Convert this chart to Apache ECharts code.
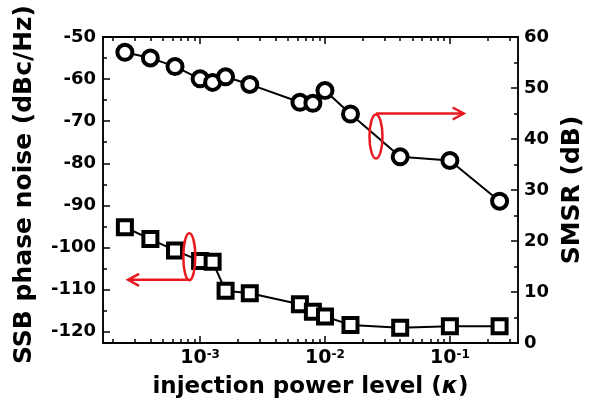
<!DOCTYPE html>
<html>
<head>
<meta charset="utf-8">
<script src="https://cdn.jsdelivr.net/npm/echarts@6/dist/echarts.min.js"></script>
<style>
html,body{margin:0;padding:0;background:#fff;}
#c{width:589px;height:411px;}
</style>
</head>
<body>
<div id="c"></div>
<script>
// ---- data ----
const kappa = [2.5e-4, 4e-4, 6.3e-4, 1e-3, 1.26e-3, 1.6e-3, 2.5e-3, 6.3e-3, 8e-3, 1e-2, 1.6e-2, 4e-2, 1e-1, 2.5e-1];
const phaseNoise = [-95.2, -98.0, -100.7, -103.2, -103.4, -110.3, -110.9, -113.5, -115.3, -116.4, -118.4, -119.1, -118.7, -118.7];
const smsr = [57.0, 55.9, 54.2, 51.8, 51.1, 52.2, 50.7, 47.2, 47.0, 49.5, 44.9, 36.5, 35.8, 27.8];

// ---- tick values ----
const xMajorTicks = [1e-3, 1e-2, 1e-1];
const xMinorTicks = [2e-4, 3e-4, 4e-4, 5e-4, 6e-4, 7e-4, 8e-4, 9e-4,
                     2e-3, 3e-3, 4e-3, 5e-3, 6e-3, 7e-3, 8e-3, 9e-3,
                     2e-2, 3e-2, 4e-2, 5e-2, 6e-2, 7e-2, 8e-2, 9e-2,
                     2e-1, 3e-1];
const yLeftTicks = [-120, -110, -100, -90, -80, -70, -60, -50];
const yLeftMinor = [-115, -105, -95, -85, -75, -65, -55];

// ---- annotation anchors (data coordinates) ----
const rightEllipse = [0.0256, 40.5];   // on SMSR axis
const rightArrow = [[0.0256, 45.0], [0.129, 45.0]];
const leftEllipse = [8.2e-4, -102.2];  // on phase-noise axis
const leftArrow = [[8.2e-4, -107.7], [2.65e-4, -107.7]];

const FONT = 'DejaVu Sans';
const BLACK = '#000';
const lineStyle = {color: BLACK, width: 1.5};

function xAxisBase(pos) {
  return {
    type: 'log', logBase: 10, min: 1.67e-4, max: 0.351, position: pos, gridIndex: 0,
    axisLine: {show: true, onZero: false, lineStyle: lineStyle},
    splitLine: {show: false}, minorSplitLine: {show: false},
    axisLabel: {show: false}
  };
}

const chart = echarts.init(document.getElementById('c'), null, {renderer: 'canvas'});

// invisible helper series so that every tick-only axis has an extent
function helper(xi, yi, vals) {
  return {
    type: 'line', xAxisIndex: xi, yAxisIndex: yi, silent: true,
    data: kappa.map(function (k, i) { return [k, vals[i]]; }),
    symbol: 'none', lineStyle: {opacity: 0}, itemStyle: {opacity: 0}, tooltip: {show: false}, z: 0
  };
}

const option = {
  backgroundColor: '#fff',
  animation: false,
  grid: {left: 103, right: 71, top: 37, bottom: 68, containLabel: false, outerBoundsMode: 'none',
         show: true, borderColor: BLACK, borderWidth: 1.5, backgroundColor: 'transparent'},
  xAxis: [
    Object.assign(xAxisBase('bottom'), {
      axisTick: {show: true, inside: true, length: 7, customValues: xMajorTicks, lineStyle: lineStyle},
      axisLabel: {
        show: true, customValues: xMajorTicks, margin: 6,
        formatter: function (v) { return '{b|10}{s|' + Math.round(Math.log10(v)) + '}'; },
        rich: {
          b: {fontFamily: FONT, fontWeight: 'bold', fontSize: 19, color: BLACK},
          s: {fontFamily: FONT, fontWeight: 'bold', fontSize: 12, color: BLACK, verticalAlign: 'top'}
        }
      },
      name: 'injection power level ({k|κ})',
      nameLocation: 'middle', nameGap: 33,
      nameTextStyle: {
        fontFamily: FONT, fontWeight: 'bold', fontSize: 23, color: BLACK,
        rich: {k: {fontFamily: FONT, fontWeight: 'bold', fontStyle: 'italic', fontSize: 23, color: BLACK}}
      }
    }),
    Object.assign(xAxisBase('bottom'), {
      axisTick: {show: true, inside: true, length: 4, customValues: xMinorTicks, lineStyle: lineStyle}
    }),
    Object.assign(xAxisBase('top'), {
      axisTick: {show: true, inside: true, length: 7, customValues: xMajorTicks, lineStyle: lineStyle}
    }),
    Object.assign(xAxisBase('top'), {
      axisTick: {show: true, inside: true, length: 4, customValues: xMinorTicks, lineStyle: lineStyle}
    })
  ],
  yAxis: [
    {
      type: 'value', position: 'left', min: -122.7, max: -50,
      axisLine: {show: true, onZero: false, lineStyle: lineStyle},
      axisTick: {show: true, inside: true, length: 7, customValues: yLeftTicks, lineStyle: lineStyle},
      axisLabel: {customValues: yLeftTicks, margin: 7, fontFamily: FONT, fontWeight: 'bold', fontSize: 18, color: BLACK},
      splitLine: {show: false},
      name: 'SSB phase noise (dBc/Hz)', nameLocation: 'middle', nameGap: 66, nameRotate: 90,
      nameTextStyle: {fontFamily: FONT, fontWeight: 'bold', fontSize: 25, color: BLACK, padding: [0, 0, 0, 11]}
    },
    {
      type: 'value', position: 'left', min: -122.7, max: -50,
      axisLine: {show: false, onZero: false},
      axisTick: {show: true, inside: true, length: 4, customValues: yLeftMinor, lineStyle: lineStyle},
      axisLabel: {show: false},
      splitLine: {show: false}
    },
    {
      type: 'value', position: 'right', min: 0, max: 60, interval: 10,
      axisLine: {show: true, onZero: false, lineStyle: lineStyle},
      axisTick: {show: true, inside: true, length: 7, lineStyle: lineStyle},
      minorTick: {show: true, splitNumber: 2, length: 4, lineStyle: lineStyle},
      axisLabel: {margin: 6, fontFamily: FONT, fontWeight: 'bold', fontSize: 18, color: BLACK},
      splitLine: {show: false}, minorSplitLine: {show: false},
      name: 'SMSR (dB)', nameLocation: 'middle', nameGap: 42, nameRotate: 90,
      nameTextStyle: {fontFamily: FONT, fontWeight: 'bold', fontSize: 25, color: BLACK}
    }
  ],
  series: [
    {
      name: 'SMSR', type: 'line', xAxisIndex: 0, yAxisIndex: 2,
      data: kappa.map(function (k, i) { return [k, smsr[i]]; }),
      symbol: 'circle', symbolSize: 15,
      lineStyle: {color: BLACK, width: 2},
      itemStyle: {color: '#fff', borderColor: BLACK, borderWidth: 4},
      z: 3
    },
    {
      name: 'Phase noise', type: 'line', xAxisIndex: 0, yAxisIndex: 0,
      data: kappa.map(function (k, i) { return [k, phaseNoise[i]]; }),
      symbol: 'rect', symbolSize: 14,
      lineStyle: {color: BLACK, width: 2},
      itemStyle: {color: '#fff', borderColor: BLACK, borderWidth: 4},
      z: 3
    },
    helper(1, 1, phaseNoise),
    helper(2, 1, phaseNoise),
    helper(3, 1, phaseNoise)
  ]
};

chart.setOption(option);

// ---- red annotations positioned through the axes ----
function px(seriesIndex, pt) { return chart.convertToPixel({seriesIndex: seriesIndex}, pt); }
function arrowGraphics(seriesIndex, ell, arr, rx, ry) {
  const c = px(seriesIndex, ell);
  const a0 = px(seriesIndex, arr[0]);
  const a1 = px(seriesIndex, arr[1]);
  const dir = a1[0] > a0[0] ? 1 : -1;
  const red = {stroke: '#e8191f', lineWidth: 2.5, fill: null};
  return [
    {type: 'ellipse', shape: {cx: c[0], cy: c[1], rx: rx, ry: ry}, style: red, z: 10},
    {type: 'line', shape: {x1: a0[0], y1: a0[1], x2: a1[0], y2: a1[1]}, style: red, z: 10},
    {type: 'polyline', shape: {points: [[a1[0] - dir * 11, a1[1] - 6], [a1[0], a1[1]], [a1[0] - dir * 11, a1[1] + 6]]},
     style: {stroke: '#e8191f', lineWidth: 2.5, fill: null, lineJoin: 'miter'}, z: 10}
  ];
}
chart.setOption({
  graphic: arrowGraphics(0, rightEllipse, rightArrow, 6.5, 22)
    .concat(arrowGraphics(1, leftEllipse, leftArrow, 6, 23.5))
});
</script>
</body>
</html>
